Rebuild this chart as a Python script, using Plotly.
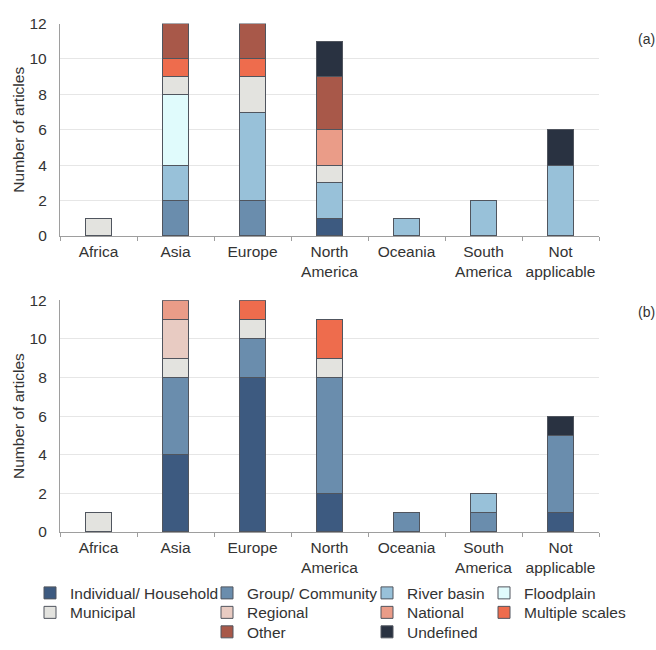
import plotly.graph_objects as go

# Continents on the category axis (line breaks for the two-word labels)
regions = ["Africa", "Asia", "Europe", "North<br>America", "Oceania",
           "South<br>America", "Not<br>applicable"]

# Spatial scale categories, stacked bottom to top in this order
scales = ["Individual/ Household", "Group/ Community", "River basin", "Floodplain",
          "Municipal", "Regional", "National", "Multiple scales", "Other", "Undefined"]

colors = ["#3D5A80", "#6A8DAD", "#98C1D9", "#E0FBFC", "#E3E3DF",
          "#E8CBC2", "#EA9C88", "#EE6C4D", "#A85849", "#293241"]

# (a) counts per scale, one value per region
counts_a = {
    "Individual/ Household": [0, 0, 0, 1, 0, 0, 0],
    "Group/ Community":      [0, 2, 2, 0, 0, 0, 0],
    "River basin":           [0, 2, 5, 2, 1, 2, 4],
    "Floodplain":            [0, 4, 0, 0, 0, 0, 0],
    "Municipal":             [1, 1, 2, 1, 0, 0, 0],
    "Regional":              [0, 0, 0, 0, 0, 0, 0],
    "National":              [0, 0, 0, 2, 0, 0, 0],
    "Multiple scales":       [0, 1, 1, 0, 0, 0, 0],
    "Other":                 [0, 2, 2, 3, 0, 0, 0],
    "Undefined":             [0, 0, 0, 2, 0, 0, 2],
}

# (b) counts per scale, one value per region
counts_b = {
    "Individual/ Household": [0, 4, 8, 2, 0, 0, 1],
    "Group/ Community":      [0, 4, 2, 6, 1, 1, 4],
    "River basin":           [0, 0, 0, 0, 0, 1, 0],
    "Floodplain":            [0, 0, 0, 0, 0, 0, 0],
    "Municipal":             [1, 1, 1, 1, 0, 0, 0],
    "Regional":              [0, 2, 0, 0, 0, 0, 0],
    "National":              [0, 1, 0, 0, 0, 0, 0],
    "Multiple scales":       [0, 0, 1, 2, 0, 0, 0],
    "Other":                 [0, 0, 0, 0, 0, 0, 0],
    "Undefined":             [0, 0, 0, 0, 0, 0, 1],
}

y_ticks = [0, 2, 4, 6, 8, 10, 12]
panel_labels = ["(a)", "(b)"]

# Legend grid: (column, row) for each scale
legend_cells = {
    "Individual/ Household": (0, 0), "Group/ Community": (1, 0),
    "River basin": (2, 0), "Floodplain": (3, 0),
    "Municipal": (0, 1), "Regional": (1, 1),
    "National": (2, 1), "Multiple scales": (3, 1),
    "Other": (1, 2), "Undefined": (2, 2),
}

W, H = 656, 650
FONT = "Liberation Sans, Arial, sans-serif"
TXT = "#333333"
OUTLINE = "#50555e"

legend_col_x = [30, 207, 367, 484]
legend_row_y = [600, 620, 640]


def nz(vals):
    return [v if v else None for v in vals]


fig = go.Figure()
legend_layout = {}
for i, (name, col) in enumerate(zip(scales, colors)):
    lid = "legend" if i == 0 else f"legend{i + 1}"
    fig.add_trace(go.Bar(
        x=regions, y=nz(counts_a[name]), name=name,
        marker=dict(color=col, line=dict(color=OUTLINE, width=1)),
        width=0.34, xaxis="x", yaxis="y", legend=lid, showlegend=True,
    ))
    fig.add_trace(go.Bar(
        x=regions, y=nz(counts_b[name]), name=name,
        marker=dict(color=col, line=dict(color=OUTLINE, width=1)),
        width=0.34, xaxis="x2", yaxis="y2", showlegend=False,
    ))
    c, r = legend_cells[name]
    legend_layout[lid] = dict(
        x=legend_col_x[c] / W, y=1 - legend_row_y[r] / H,
        xanchor="left", yanchor="middle",
        bgcolor="rgba(0,0,0,0)", borderwidth=0,
        font=dict(family=FONT, size=15.5, color=TXT),
    )

x_dom = [60 / W, 599 / W]
ya_dom = [1 - 233 / H, 1 - 15 / H]
yb_dom = [1 - 537 / H, 1 - 299 / H]

xaxis_common = dict(
    type="category", showgrid=False, showline=True, linecolor="#9E9E9E", linewidth=1.3,
    ticks="outside", tickson="boundaries", ticklen=4, tickcolor="#9E9E9E",
    tickangle=0, tickfont=dict(family=FONT, size=15.5, color=TXT), ticklabelstandoff=1,
    fixedrange=True,
)
yaxis_common = dict(
    range=[0, 12], tickvals=y_ticks, showgrid=True, gridcolor="#E6E6E6", gridwidth=1,
    showline=True, linecolor="#9E9E9E", linewidth=1.3, zeroline=False,
    ticks="", ticklabelstandoff=9,
    tickfont=dict(family=FONT, size=15.5, color=TXT),
    title=dict(text="Number of articles", font=dict(family=FONT, size=15.5, color=TXT),
               standoff=1),
)

fig.update_layout(
    width=W, height=H, margin=dict(l=0, r=0, t=0, b=0),
    paper_bgcolor="white", plot_bgcolor="white",
    barmode="stack", bargap=0.66,
    font=dict(family=FONT, color=TXT),
    xaxis=dict(domain=x_dom, anchor="y", **xaxis_common),
    yaxis=dict(domain=ya_dom, anchor="x", **yaxis_common),
    xaxis2=dict(domain=x_dom, anchor="y2", **xaxis_common),
    yaxis2=dict(domain=yb_dom, anchor="x2", **yaxis_common),
    **legend_layout,
)

for lbl, yp in zip(panel_labels, [31, 311]):
    fig.add_annotation(text=lbl, xref="paper", yref="paper", x=646 / W, y=1 - yp / H,
                       showarrow=False, xanchor="center", yanchor="middle",
                       font=dict(family=FONT, size=14, color=TXT))

fig.write_html("out.html")
